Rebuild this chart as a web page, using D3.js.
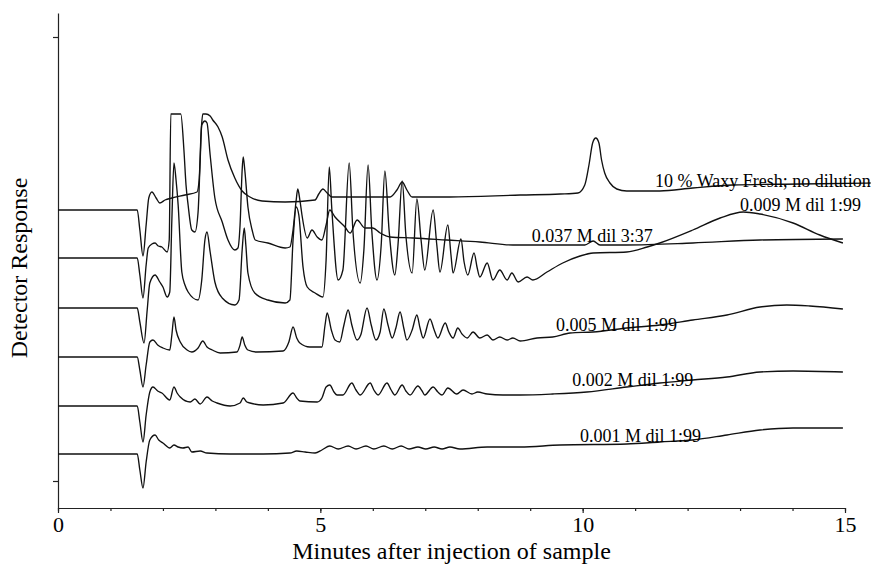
<!DOCTYPE html>
<html>
<head>
<meta charset="utf-8">
<script src="https://cdn.jsdelivr.net/npm/d3@7"></script>
<style>
  body { margin: 0; background: #fff; }
  text { font-family: "Liberation Serif", "Times New Roman", serif; fill: #000; }
</style>
</head>
<body>
<div id="chart"></div>
<script>
// Chromatogram traces, [minutes, detector response]
const waxyFresh = [[0,271],[1.51,271],[1.56,251],[1.62,225],[1.68,256],[1.73,283],[1.79,289],[1.87,283],[1.94,278],[2.04,281],[2.17,283],[2.42,286],[2.65,289],[2.69,301],[2.73,351],[2.76,367],[2.82,367],[2.90,365],[2.95,361],[3.05,354],[3.13,344],[3.24,321],[3.37,303],[3.51,290],[3.66,284],[3.89,280],[4.33,279],[4.90,281],[4.97,287],[5.05,292],[5.13,288],[5.22,284],[5.47,284],[6.33,284],[6.46,291],[6.56,299],[6.65,291],[6.75,284],[7.47,284],[8.81,286],[9.57,287],[9.91,288],[10.04,296],[10.12,316],[10.19,338],[10.25,343],[10.31,338],[10.36,321],[10.42,308],[10.52,298],[10.65,292],[10.84,290],[11.47,290],[12.10,293],[12.86,296],[14.14,297],[15.49,298]];

const m0037 = [[0,223],[1.51,223],[1.56,206],[1.62,183],[1.68,216],[1.72,233],[1.79,237],[1.85,238],[1.91,235],[1.98,234],[2.08,229],[2.12,241],[2.15,367],[2.34,367],[2.40,331],[2.44,296],[2.48,276],[2.55,251],[2.61,249],[2.67,269],[2.71,321],[2.74,356],[2.80,360],[2.84,358],[2.90,326],[2.99,283],[3.13,259],[3.24,241],[3.37,231],[3.43,233],[3.47,256],[3.51,311],[3.53,324],[3.56,311],[3.62,274],[3.70,251],[3.76,241],[4.00,238],[4.33,233],[4.42,234],[4.48,251],[4.54,281],[4.57,292],[4.61,281],[4.65,266],[4.75,243],[4.84,251],[4.94,244],[5.03,241],[5.11,256],[5.18,271],[5.28,264],[5.47,254],[5.57,248],[5.70,261],[5.85,253],[6.00,253],[6.14,248],[6.33,244],[6.77,243],[7.41,241],[8.04,239],[8.67,236],[9.57,236],[10.04,236],[10.20,240],[10.33,236],[10.84,236],[12.10,238],[13.38,241],[14.96,242]];

const m0009 = [[0,173],[1.51,173],[1.56,159],[1.64,138],[1.70,171],[1.75,198],[1.85,206],[1.94,199],[2.00,194],[2.08,184],[2.13,189],[2.17,261],[2.21,318],[2.25,301],[2.29,276],[2.36,209],[2.42,196],[2.48,189],[2.67,181],[2.74,201],[2.80,241],[2.84,249],[2.90,229],[2.99,199],[3.13,183],[3.37,176],[3.45,181],[3.51,231],[3.55,253],[3.58,236],[3.62,208],[3.75,188],[4.00,181],[4.33,178],[4.42,181],[4.48,241],[4.54,274],[4.59,266],[4.67,214],[4.75,194],[4.90,188],[5.05,184],[5.11,221],[5.17,314],[5.22,271],[5.34,201],[5.43,211],[5.55,318],[5.62,251],[5.76,198],[5.83,231],[5.91,316],[5.98,251],[6.08,201],[6.16,236],[6.23,310],[6.31,251],[6.42,206],[6.48,236],[6.56,300],[6.63,246],[6.75,208],[6.84,282],[6.92,241],[6.99,211],[7.15,271],[7.22,236],[7.28,209],[7.43,256],[7.49,226],[7.53,208],[7.68,242],[7.74,219],[7.81,206],[7.93,228],[7.99,213],[8.04,204],[8.18,218],[8.29,201],[8.42,211],[8.56,201],[8.65,208],[8.77,199],[8.94,204],[9.05,201],[9.32,209],[9.62,218],[9.95,225],[10.20,228],[10.84,229],[11.23,234],[11.47,238],[12.10,251],[12.62,263],[13.06,269],[13.38,267],[14.01,258],[14.52,246],[14.96,238]];

const m0005 = [[0,124],[1.51,124],[1.56,111],[1.62,94],[1.68,116],[1.75,139],[1.81,141],[1.90,136],[2.00,133],[2.13,131],[2.17,146],[2.21,164],[2.25,151],[2.33,139],[2.46,131],[2.55,129],[2.67,133],[2.76,140],[2.84,134],[2.94,131],[3.09,128],[3.41,129],[3.47,136],[3.51,144],[3.56,136],[3.62,131],[3.79,129],[4.29,130],[4.40,139],[4.48,154],[4.55,143],[4.61,138],[4.80,134],[5.03,134],[5.09,156],[5.13,168],[5.21,151],[5.28,141],[5.37,139],[5.45,156],[5.53,171],[5.60,156],[5.70,141],[5.77,146],[5.89,173],[5.97,156],[6.06,141],[6.14,149],[6.21,172],[6.29,156],[6.37,143],[6.44,153],[6.52,169],[6.59,153],[6.65,141],[6.75,151],[6.84,166],[6.90,153],[6.96,143],[7.09,162],[7.17,151],[7.24,143],[7.38,158],[7.45,149],[7.53,143],[7.62,153],[7.70,147],[7.80,143],[7.91,149],[8.04,143],[8.18,146],[8.29,141],[8.42,144],[8.56,141],[8.67,143],[8.81,140],[9.13,143],[9.43,144],[9.76,148],[10.20,149],[10.84,153],[11.47,156],[12.10,161],[12.75,166],[13.38,174],[13.89,176],[14.33,175],[14.96,172]];

const m0002 = [[0,75],[1.51,75],[1.56,59],[1.62,39],[1.68,66],[1.75,89],[1.81,94],[1.90,90],[1.98,88],[2.13,81],[2.21,94],[2.27,88],[2.33,84],[2.52,79],[2.61,82],[2.71,77],[2.84,84],[2.94,80],[3.03,78],[3.28,75],[3.47,78],[3.53,83],[3.60,79],[3.66,78],[3.91,76],[4.29,78],[4.48,88],[4.55,83],[4.61,80],[4.94,79],[5.03,83],[5.11,94],[5.18,96],[5.26,89],[5.32,86],[5.43,86],[5.60,98],[5.68,91],[5.76,86],[5.95,98],[6.02,91],[6.10,86],[6.27,98],[6.35,91],[6.42,86],[6.56,96],[6.63,90],[6.71,86],[6.86,95],[6.94,90],[6.99,86],[7.15,94],[7.24,89],[7.32,86],[7.43,93],[7.60,87],[7.72,91],[7.89,87],[8.00,89],[8.18,87],[8.48,86],[8.81,86],[9.43,87],[10.08,89],[10.84,94],[11.47,98],[12.10,101],[12.75,104],[13.38,109],[14.01,110],[14.96,109]];

const m0001 = [[0,27],[1.51,27],[1.56,11],[1.62,-7],[1.68,19],[1.75,41],[1.85,46],[1.92,41],[2.00,38],[2.13,33],[2.21,36],[2.29,34],[2.38,33],[2.48,34],[2.55,29],[2.71,30],[2.84,28],[3.28,27],[3.91,27],[4.42,28],[4.55,30],[4.71,29],[4.90,28],[5.03,31],[5.18,35],[5.34,32],[5.53,35],[5.68,32],[5.87,35],[6.02,32],[6.21,35],[6.37,32],[6.54,35],[6.69,32],[6.86,34],[7.01,32],[7.17,34],[7.32,32],[7.47,34],[7.66,32],[8.18,34],[8.81,34],[9.57,36],[10.84,37],[11.47,39],[12.10,41],[12.75,46],[13.38,51],[14.01,53],[14.96,53]];

const traces = [waxyFresh, m0037, m0009, m0005, m0002, m0001];
const traceNames = ["10 % Waxy Fresh; no dilution", "0.037 M dil 3:37", "0.009 M dil 1:99",
                    "0.005 M dil 1:99", "0.002 M dil 1:99", "0.001 M dil 1:99"];
// where each name sits, in [minutes, response]
const labelAt = [[11.38, 294], [9.03, 239], [13.0, 270], [9.49, 150], [9.80, 95], [9.95, 39]];

const majorTicks = [0, 5, 10, 15];
const minorTicks = d3.range(0, 16);
const yTicks = [0, 444];

const margin = { top: 13, right: 31, bottom: 58, left: 58 };
const width = 876 - margin.left - margin.right;
const height = 566 - margin.top - margin.bottom;

const svg = d3.select("#chart")
    .append("svg")
    .attr("width", 876)
    .attr("height", 566)
    .append("g")
    .attr("transform", "translate(" + margin.left + "," + margin.top + ")");

const x = d3.scaleLinear().domain([0, 15]).range([0, width]);
const y = d3.scaleLinear().domain([-27, 468]).range([height, 0]);

// minor minute ticks
svg.append("g")
    .attr("transform", `translate(0,${height})`)
    .call(d3.axisBottom(x).tickValues(minorTicks).tickSize(3).tickSizeOuter(0).tickFormat(""))
    .call(g => g.select(".domain").remove());

// X axis
const xAxis = svg.append("g")
    .attr("transform", `translate(0,${height})`)
    .call(d3.axisBottom(x).tickValues(majorTicks).tickSize(5).tickSizeOuter(0).tickPadding(3));
xAxis.selectAll("text")
    .style("font-size", "22px")
    .style("font-family", "'Liberation Serif', serif");

// Y axis, unlabelled ticks
svg.append("g")
    .call(d3.axisLeft(y).tickValues(yTicks).tickSize(5).tickSizeOuter(0).tickFormat(""));

svg.selectAll(".domain, .tick line")
    .attr("stroke", "#222")
    .attr("stroke-width", 1.2);

// Traces
const line = d3.line()
    .x(d => x(d[0]))
    .y(d => y(d[1]))
    .curve(d3.curveMonotoneX);

svg.selectAll(".trace")
    .data(traces)
    .enter().append("path")
    .attr("class", "trace")
    .attr("d", line)
    .attr("fill", "none")
    .attr("stroke", "#111")
    .attr("stroke-width", 1.35)
    .attr("stroke-linejoin", "round");

// Trace names
svg.selectAll(".trace-label")
    .data(traceNames)
    .enter().append("text")
    .attr("class", "trace-label")
    .attr("x", (d, i) => x(labelAt[i][0]))
    .attr("y", (d, i) => y(labelAt[i][1]))
    .style("font-size", "18px")
    .text(d => d);

// Title for X-axis
svg.append("text")
    .attr("x", width / 2)
    .attr("y", height + 51)
    .style("text-anchor", "middle")
    .style("font-size", "24px")
    .text("Minutes after injection of sample");

// Title for Y-axis
svg.append("text")
    .attr("transform", "rotate(-90)")
    .attr("y", -margin.left + 27)
    .attr("x", -(268 - margin.top))
    .style("text-anchor", "middle")
    .style("font-size", "24px")
    .text("Detector Response");
</script>
</body>
</html>
